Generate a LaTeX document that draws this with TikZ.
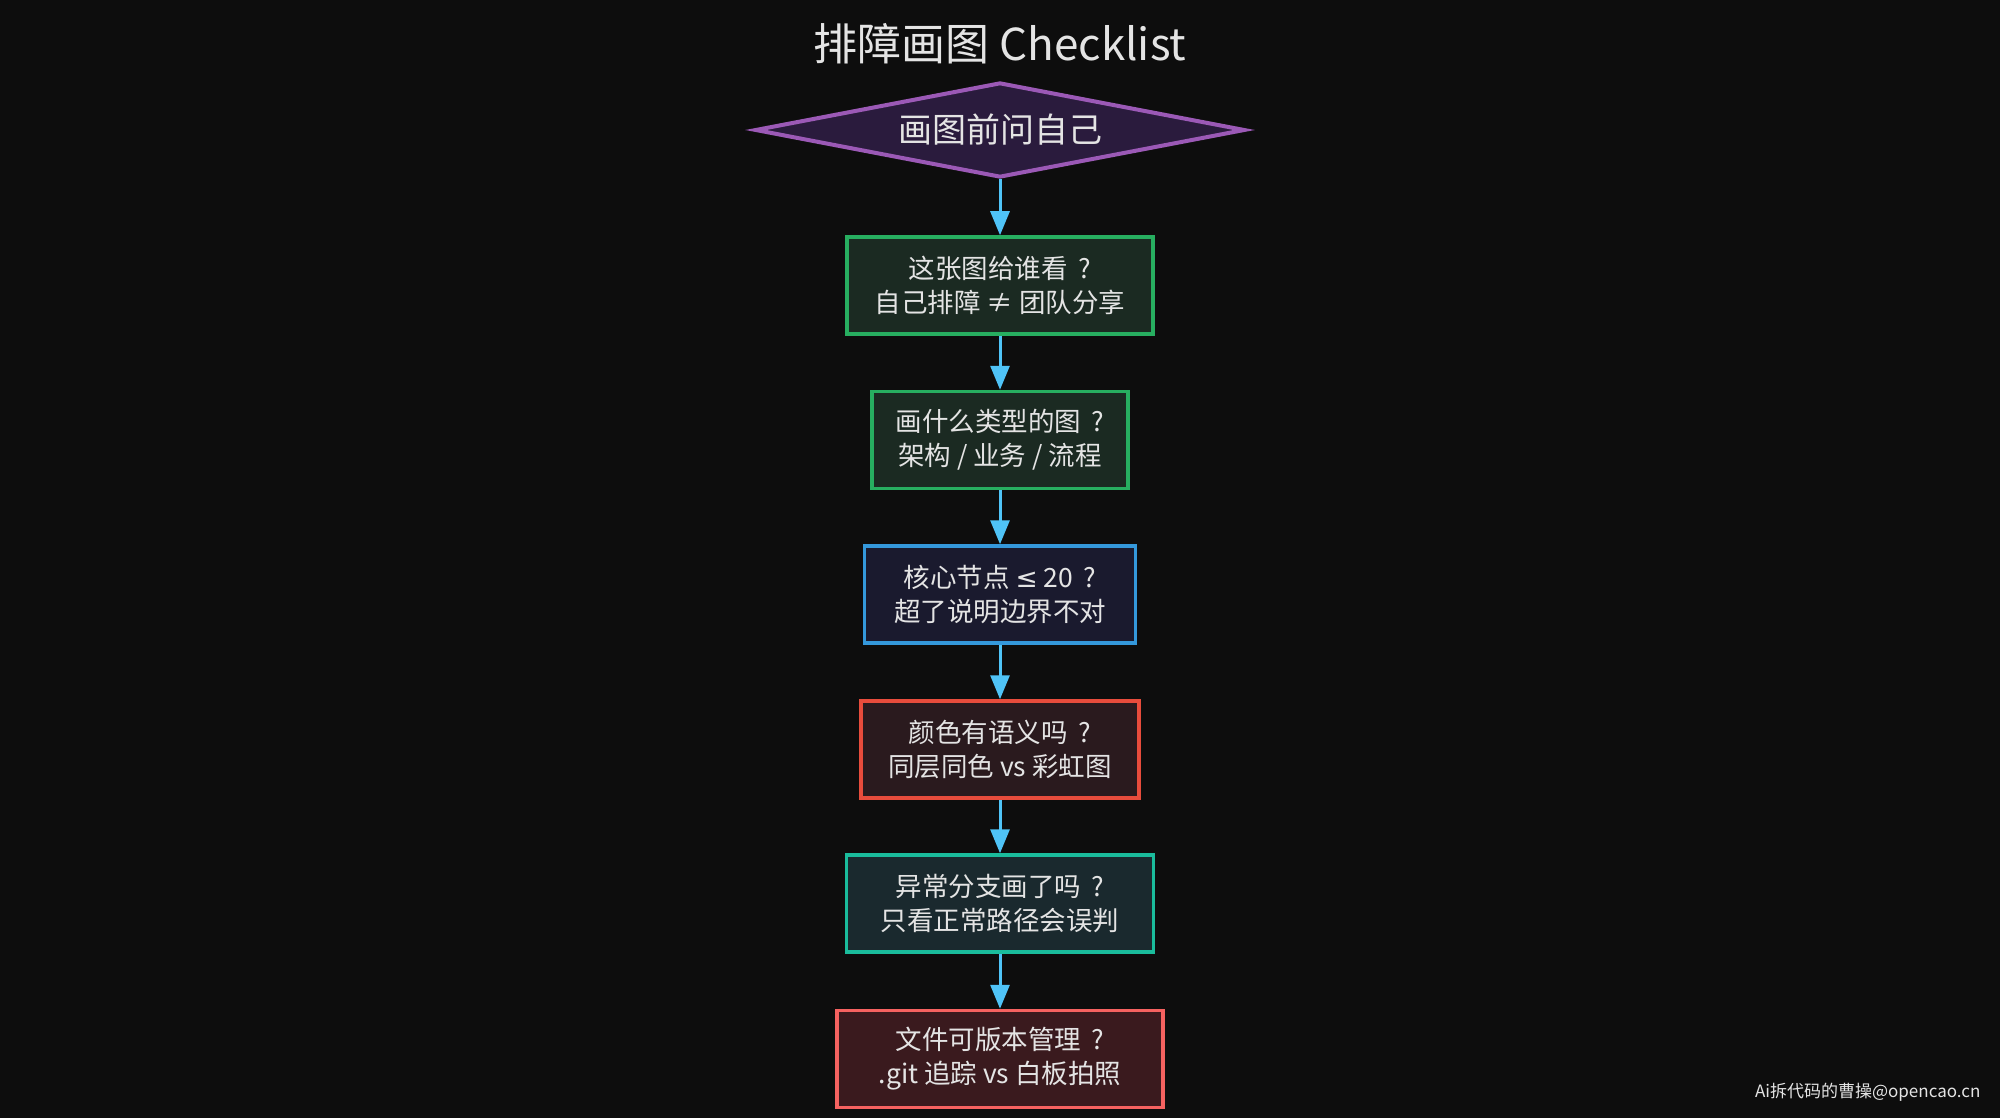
\documentclass[tikz,border=0pt]{standalone}
\usepackage{fontspec}
\setmainfont{Noto Sans CJK SC}
\newfontfamily\symfont{DejaVu Sans}
\usepackage{tikz}
\usetikzlibrary{shapes.geometric,arrows.meta}

\definecolor{bgdark}{HTML}{0D0D0D}
\definecolor{txtgray}{HTML}{E4E4E4}
\definecolor{flowblue}{HTML}{4FC3F7}
\definecolor{askline}{HTML}{9B59B6}
\definecolor{askfill}{HTML}{2A1B3D}
\definecolor{grnline}{HTML}{27AE60}
\definecolor{grnfill}{HTML}{1B2A22}
\definecolor{bluline}{HTML}{3498DB}
\definecolor{blufill}{HTML}{1A1A2E}
\definecolor{redline}{HTML}{E74C3C}
\definecolor{redfill}{HTML}{2A1A1E}
\definecolor{tealline}{HTML}{1ABC9C}
\definecolor{tealfill}{HTML}{1A292E}
\definecolor{pinkline}{HTML}{F56260}
\definecolor{pinkfill}{HTML}{3A1A1E}

\newcommand{\askmark}{\hspace{0.4em}?}

\begin{document}
\begin{tikzpicture}[x=1pt,y=-1pt,
  checkbox/.style 2 args={shape=rectangle,draw=#1,fill=#2,line width=3.5pt,minimum height=97pt,inner sep=0pt,text=txtgray,align=center,font=\fontsize{26.5}{34}\selectfont},
  flow/.style={draw=flowblue,line width=3pt,-{Triangle[length=24pt,width=19pt,fill=flowblue]}}]
\fill[bgdark] (0,0) rectangle (2000,1118);
\useasboundingbox (0,0) rectangle (2000,1118);
\node[text=txtgray,font=\fontsize{44}{50}\selectfont] (title) at (1000,44) {排障画图 Checklist};
\node[shape=diamond,draw=askline,fill=askfill,line width=4pt,aspect=5.17,minimum width=490pt,minimum height=95pt,inner sep=0pt,text=txtgray,font=\fontsize{34}{40}\selectfont] (ask) at (1000,130) {画图前问自己};
\node[checkbox={grnline}{grnfill},minimum width=306pt] (who) at (1000,285.5) {这张图给谁看\askmark\\自己排障 ≠ 团队分享};
\node[checkbox={grnline}{grnfill},minimum width=256pt] (kind) at (1000,440) {画什么类型的图\askmark\\架构 / 业务 / 流程};
\node[checkbox={bluline}{blufill},minimum width=271pt] (core) at (1000,594.5) {核心节点 {\symfont ≤} 20\askmark\\超了说明边界不对};
\node[checkbox={redline}{redfill},minimum width=278pt] (color) at (1000,749.5) {颜色有语义吗\askmark\\同层同色 vs 彩虹图};
\node[checkbox={tealline}{tealfill},minimum width=307pt] (branch) at (1000,903.5) {异常分支画了吗\askmark\\只看正常路径会误判};
\node[checkbox={pinkline}{pinkfill},minimum width=326pt] (vcs) at (1000,1059) {文件可版本管理\askmark\\.git 追踪 vs 白板拍照};
\draw [flow] (ask) -- (who);
\draw [flow] (who) -- (kind);
\draw [flow] (kind) -- (core);
\draw [flow] (core) -- (color);
\draw [flow] (color) -- (branch);
\draw [flow] (branch) -- (vcs);
\node[anchor=east,text=txtgray,font=\fontsize{17}{20}\selectfont] (mark) at (1984,1092) {Ai拆代码的曹操@opencao.cn};
\end{tikzpicture}
\end{document}
